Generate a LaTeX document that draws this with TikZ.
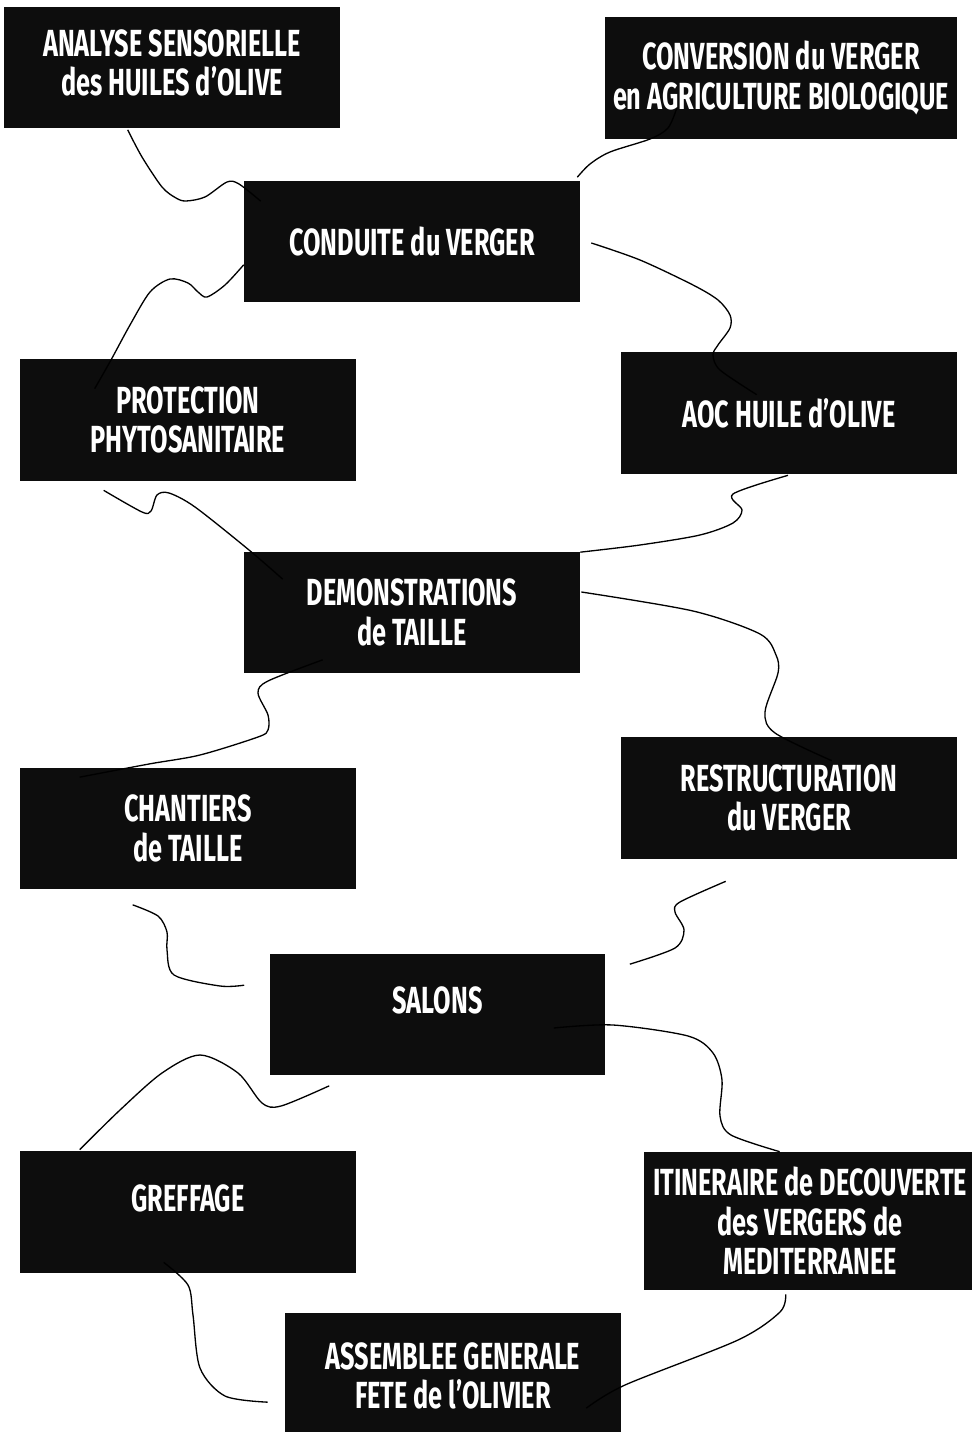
\documentclass[tikz,border=0pt]{standalone}
\usepackage{fontspec}
\usepackage{tikz}
\usetikzlibrary{calc}
\newfontfamily\etroite{Fira Sans}[FakeStretch=0.67]
\definecolor{noir}{HTML}{0D0D0D}
\tikzset{
  bloc/.style={fill=noir, text=white, inner sep=0pt, align=center,
    minimum width=6.72cm, minimum height=2.44cm,
    font=\etroite\bfseries\fontsize{21.5}{22.5}\selectfont},
  lien/.style={line width=0.75pt, line join=round}
}

\begin{document}
\begin{tikzpicture}[x=0.02cm, y=-0.02cm]
    \useasboundingbox[fill=white] (0,0) rectangle (971,1432);

    % Boites
    \node[bloc, text depth=0.2cm] (analyse) at (172,67.5) {ANALYSE SENSORIELLE\\des HUILES d’OLIVE};
    \node[bloc, minimum width=7.04cm] (conversion) at (781,78) {CONVERSION du VERGER\\en AGRICULTURE BIOLOGIQUE};
    \node[bloc] (conduite) at (412,241.5) {CONDUITE du VERGER};
    \node[bloc] (protection) at (188,420) {PROTECTION\\PHYTOSANITAIRE};
    \node[bloc] (aoc) at (789,413) {AOC HUILE d’OLIVE};
    \node[bloc] (demos) at (412,612.5) {DEMONSTRATIONS\\de TAILLE};
    \node[bloc] (chantiers) at (188,828.5) {CHANTIERS\\de TAILLE};
    \node[bloc] (restruct) at (789,798) {RESTRUCTURATION\\du VERGER};
    \node[bloc, text depth=0.56cm] (salons) at (437.5,1014.5) {SALONS};
    \node[bloc, text depth=0.56cm] (greffage) at (188,1212) {GREFFAGE};
    \node[bloc, minimum width=6.64cm, minimum height=2.76cm] (itineraire) at (810,1221) {ITINERAIRE de DECOUVERTE\\des VERGERS de\\MEDITERRANEE};
    \node[bloc, minimum height=2.54cm] (assemblee) at (453,1376) {ASSEMBLEE GENERALE\\FETE de l’OLIVIER};

    % Liens du haut
    \draw[lien] plot[smooth, tension=0.5] coordinates {($(analyse.south west)+(124,1)$) (142,157) (162,187) (176,198) (186,201) (205,197) (227,182) (239,184) ($(conduite.north west)+(17,21)$)};
    \draw[lien] plot[smooth, tension=0.5] coordinates {($(conduite.north east)+(-3,-3)$) (590,164) (610,152) (650,139) (668,128) ($(conversion.south west)+(72,-31)$)};
    \draw[lien] plot[smooth, tension=0.5] coordinates {($(conduite.east)+(11,1.5)$) (640,260) (693,285) (718,300) (730,315) (730,328) (718,345) (713,355) (720,370) ($(aoc.north west)+(136,43)$)};
    \draw[lien] plot[smooth, tension=0.5] coordinates {($(conduite.south west)+(0,-38)$) (225,285) (207,297) (198,292) (188,283) (170,279) (150,292) (130,325) (111,360) ($(protection.north west)+(75,30)$)};

    % Liens du milieu
    \draw[lien] plot[smooth, tension=0.5] coordinates {($(protection.south west)+(84,9)$) (142,512) (151,511) (157,495) (169,493) (195,507) (249,550) ($(demos.north west)+(39,28)$)};
    \draw[lien] plot[smooth, tension=0.5] coordinates {($(aoc.south)+(-1,1)$) (733,494) (742,510) (733,523) (700,535) (640,545) ($(demos.north east)+(0,1)$)};
    \draw[lien] plot[smooth, tension=0.5] coordinates {($(demos.south west)+(79,-14)$) (268,681) (258,693) (268,715) (268,730) (258,737) (200,755) (149,764) ($(chantiers.north west)+(60,10)$)};
    \draw[lien] plot[smooth, tension=0.5] coordinates {($(demos.east)+(1,-20.5)$) (693,611) (760,634) (776,655) (778,673) (765,712) (775,733) ($(restruct.north west)+(211,24)$)};
    \draw[lien] plot[smooth, tension=0.5] coordinates {($(chantiers.south west)+(113,15)$) (158,916) (167,932) (167,950) (174,975) (220,986) ($(salons.north west)+(-25,32)$)};
    \draw[lien] plot[smooth, tension=0.5] coordinates {($(restruct.south west)+(105,22)$) (680,902) (675,912) (684,930) (675,948) ($(salons.north east)+(24,11)$)};

    % Liens du bas
    \draw[lien] plot[smooth, tension=0.5] coordinates {($(salons.south west)+(60,10)$) (281,1106) (262,1103) (238,1073) (200,1055) (162,1073) (120,1110) ($(greffage.north west)+(60,-1)$)};
    \draw[lien] plot[smooth, tension=0.5] coordinates {($(salons.east)+(-52,13.5)$) (613,1025) (688,1036) (713,1053) (722,1080) (720,1116) (731,1135) ($(itineraire.north west)+(136,0)$)};
    \draw[lien] plot[smooth, tension=0.5] coordinates {($(greffage.south west)+(144,-11)$) (188,1285) (193,1315) (200,1368) (225,1396) ($(assemblee.north west)+(-17,90)$)};
    \draw[lien] plot[smooth, tension=0.5] coordinates {($(itineraire.south west)+(142,4)$) (780,1312) (738,1340) (625,1385) ($(assemblee.north east)+(-35,96)$)};
\end{tikzpicture}
\end{document}
